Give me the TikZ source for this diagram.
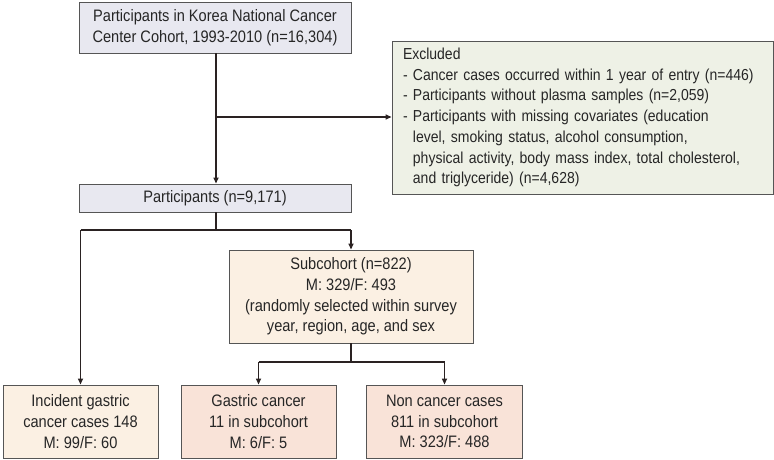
\documentclass[tikz,border=0pt]{standalone}
\usepackage{fontspec}
\setmainfont{Liberation Sans}[FakeStretch=0.88]
\usetikzlibrary{arrows.meta}
\definecolor{boxgray}{HTML}{E8E8F0}
\definecolor{boxgreen}{HTML}{EEF1E6}
\definecolor{boxcream}{HTML}{FBF0E3}
\definecolor{boxpink}{HTML}{F9E3D8}
\definecolor{edgec}{HTML}{555555}
\definecolor{arrc}{HTML}{2A2222}
\tikzset{
  x=1pt, y=-1pt,
  box/.style={draw=edgec, line width=0.9pt, rectangle, inner sep=0pt, align=center,
    font=\fontsize{16.6}{20.6}\selectfont, text=black!85},
  conn/.style={draw=arrc, line width=1.5pt},
  arr/.style={conn, -{Triangle[length=6pt,width=5pt]}},
}
\begin{document}
\begin{tikzpicture}
\useasboundingbox (0,0) rectangle (774,460);
\node[box, fill=boxgray, minimum width=272pt, minimum height=51pt] (top) at (215,27.5)
  {Participants in Korea National Cancer\\Center Cohort, 1993-2010 (n=16,304)};
\node[box, fill=boxgreen, minimum width=381pt, minimum height=153pt, align=left,
  text width=359pt, inner xsep=11pt, font=\fontsize{15.9}{20.7}\selectfont] (excl) at (582.5,117.5)
  {Excluded\\
   - Cancer cases occurred within 1 year of entry (n=446)\\
   - Participants without plasma samples (n=2,059)\\
   - Participants with missing covariates (education\\
   \phantom{- }level, smoking status, alcohol consumption,\\
   \phantom{- }physical activity, body mass index, total cholesterol,\\
   \phantom{- }and triglyceride) (n=4,628)};
\node[box, fill=boxgray, minimum width=272pt, minimum height=28pt] (part) at (215,198)
  {Participants (n=9,171)};
\node[box, fill=boxcream, minimum width=244pt, minimum height=93pt] (sub) at (351,296.5)
  {Subcohort (n=822)\\M: 329/F: 493\\(randomly selected within survey\\year, region, age, and sex};
\node[box, fill=boxcream, minimum width=155pt, minimum height=73pt] (inc) at (80.5,421.5)
  {Incident gastric\\cancer cases 148\\M: 99/F: 60};
\node[box, fill=boxpink, minimum width=155pt, minimum height=73pt] (gas) at (258.5,421.5)
  {Gastric cancer\\11 in subcohort\\M: 6/F: 5};
\node[box, fill=boxpink, minimum width=156pt, minimum height=73pt] (non) at (444.5,421.5)
  {Non cancer cases\\811 in subcohort\\M: 323/F: 488};
\coordinate (j0) at (216,117);
\coordinate (j1) at (216,230);
\coordinate (j2) at (351,362);
\draw[arr] (top.south -| j0) -- (part.north -| j0);
\draw[arr] (j0) -- (excl.west |- j0);
\draw[conn] (part.south -| j1) -- (j1);
\draw[conn] (j1 -| inc.north) -- (j1 -| sub.north);
\draw[arr] (j1 -| inc.north) -- (inc.north);
\draw[arr] (j1 -| sub.north) -- (sub.north);
\draw[conn] (sub.south) -- (j2);
\draw[conn] (j2 -| gas.north) -- (j2 -| non.north);
\draw[arr] (j2 -| gas.north) -- (gas.north);
\draw[arr] (j2 -| non.north) -- (non.north);
\end{tikzpicture}
\end{document}
